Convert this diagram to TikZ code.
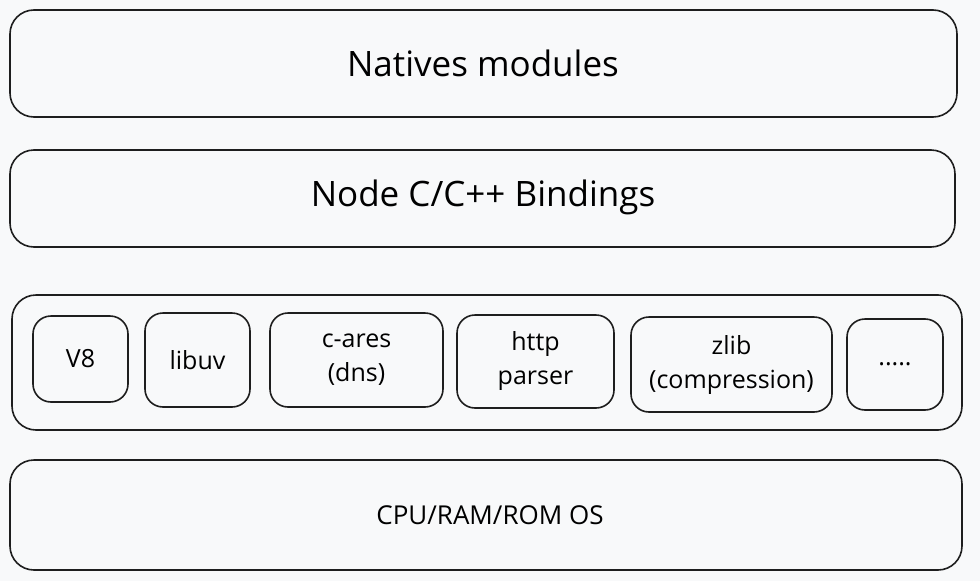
\documentclass[tikz,border=0pt]{standalone}
\usepackage{fontspec}
\setmainfont{Open Sans}
\definecolor{bg}{HTML}{F8F9FA}
\definecolor{ink}{HTML}{1E1E1E}
\begin{document}
\begin{tikzpicture}[x=1pt,y=-1pt,
  layer/.style={draw=ink, line width=1.6pt, rounded corners=24pt, fill=bg, inner sep=0pt},
  lib/.style={draw=ink, line width=1.6pt, rounded corners=18pt, fill=bg, inner sep=0pt, align=center, font=\fontsize{25}{34}\selectfont},
  big/.style={font=\fontsize{35}{40}\selectfont},
  mid/.style={font=\fontsize{26}{30}\selectfont}]
\fill[bg] (0,0) rectangle (980,581);
\useasboundingbox (0,0) rectangle (980,581);
\node[layer, minimum width=947pt, minimum height=107pt] (nat) at (483.5,63.5) {};
\node[big] (natt) at (483,63) {Natives modules};
\node[layer, minimum width=945pt, minimum height=97pt] (bind) at (482.5,198.5) {};
\node[big] (bindt) at (483,197) {Node C/C++ Bindings};
\node[layer, minimum width=950pt, minimum height=135pt] (deps) at (487,362.5) {};
\node[lib, minimum width=95pt, minimum height=86pt] (v8) at (80.5,359) {V8};
\node[lib, minimum width=105pt, minimum height=94pt] (uv) at (197.5,360) {libuv};
\node[lib, minimum width=173pt, minimum height=94pt] (cares) at (356.5,360) {c-ares\\(dns)};
\node[lib, minimum width=157pt, minimum height=93pt] (http) at (535.5,361.5) {http\\parser};
\node[lib, minimum width=201pt, minimum height=95pt] (zlib) at (731.5,364.5) {zlib\\(compression)};
\node[lib, minimum width=96pt, minimum height=91pt] (more) at (895,364.5) {.....};
\node[layer, minimum width=952pt, minimum height=110pt] (os) at (486,515) {};
\node[mid] (ost) at (490,515) {CPU/RAM/ROM OS};
\end{tikzpicture}
\end{document}
